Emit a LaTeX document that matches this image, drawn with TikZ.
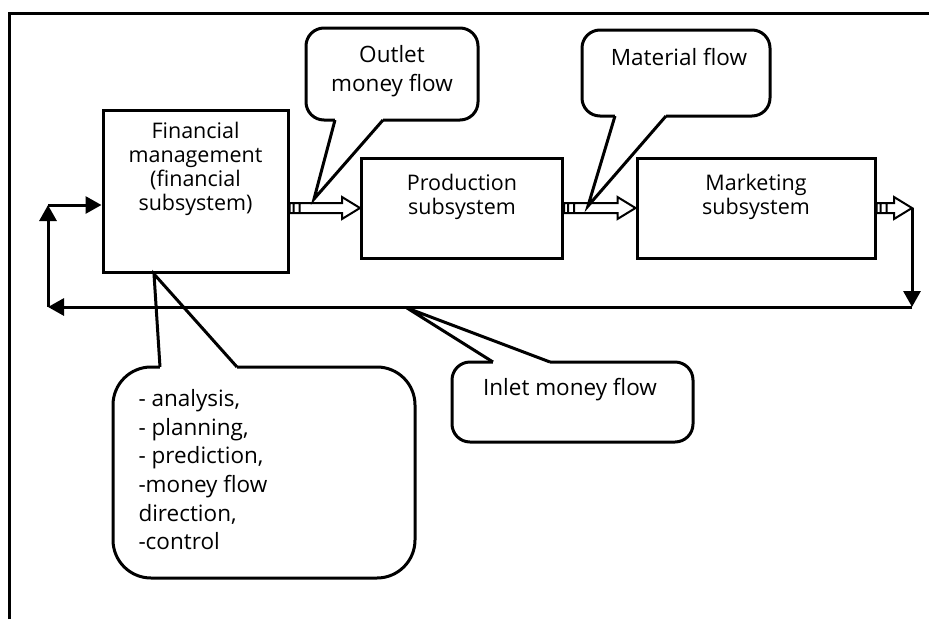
\documentclass[tikz,border=0pt]{standalone}
\usepackage{fontspec}
\setmainfont{Open Sans}
\usetikzlibrary{arrows.meta,calc}

% hollow block arrow from the east side of #1 to the west side of #2
\newcommand\flowarrow[2]{%
  \draw[hollow] let \p1=(#1.east), \p2=(#2.west) in
    (\x1,\y2-5pt) rectangle (\x1+10pt,\y2+5pt)
    (\x1+4pt,\y2-5pt) -- (\x1+4pt,\y2+5pt)
    (\x1+10pt,\y2+5pt) -- (\x2-18pt,\y2+5pt) -- (\x2-18pt,\y2+11pt)
    -- (\x2,\y2) -- (\x2-18pt,\y2-11pt) -- (\x2-18pt,\y2-5pt) -- (\x1+10pt,\y2-5pt);}

\begin{document}
\begin{tikzpicture}[x=1pt,y=-1pt,line width=3pt,
  box/.style={draw,rectangle,inner sep=0pt},
  lbl/.style={font=\fontsize{21.5}{24}\selectfont,align=center},
  note/.style={font=\fontsize{22.5}{28.6}\selectfont,inner sep=0pt},
  tip/.style={-{Triangle[length=16pt,width=17pt]}},
  hollow/.style={line width=2pt,fill=white}]
\useasboundingbox (0,0) rectangle (929,619);

% frame
\draw (9.5,619) -- (9.5,13.5) -- (929,13.5);

% subsystems
\node[box,minimum width=185pt,minimum height=162pt] (fin) at (195.5,191) {};
\node[lbl] (fintxt) at (195.5,169) {Financial\\management\\(financial\\subsystem)};
\node[box,minimum width=201pt,minimum height=100pt] (prod) at (462,208) {};
\node[lbl] (prodtxt) at (462,197) {Production\\subsystem};
\node[box,minimum width=238pt,minimum height=100pt] (mkt) at (756,208) {};
\node[lbl] (mkttxt) at (756,197) {Marketing\\subsystem};

% money and material flows
\coordinate (out) at (912,208);
\coordinate (ret) at (912,307);
\coordinate (back) at (48,307);
\coordinate (up) at (48,205);
\flowarrow{fin}{prod}
\flowarrow{prod}{mkt}
\flowarrow{mkt}{out}
\draw[tip] (out) -- (ret);
\draw[tip] (ret) -- (back);
\draw[tip] (back) -- (up);
\draw[tip] (up) -- (up -| fin.west);

% callouts
\draw[rounded corners=18pt] (306,28) rectangle (478,120);
\fill[white] (335,117.5) rectangle (383,122.5);
\draw (335,120) -- (314,199) -- (383,120);
\node[note,align=center] (outtxt) at (392,71) {Outlet\\money flow};

\draw[rounded corners=18pt] (582,30) rectangle (770,116);
\fill[white] (615,113.5) rectangle (666,118.5);
\draw (615,116) -- (588,206) -- (666,116);
\node[note] (mattxt) at (679,57) {Material flow};

\draw[rounded corners=18pt] (452,362) rectangle (693,442);
\fill[white] (493,359.5) rectangle (550,364.5);
\draw (493,362) -- (407,308) -- (550,362);
\node[note] (intxt) at (570,390) {Inlet money flow};

\draw[rounded corners=38pt] (113,367) rectangle (415,578);
\fill[white] (160,364.5) rectangle (237,369.5);
\draw (160,367) -- (154,274) -- (237,367);
\node[note,align=left,anchor=north west] (tasks) at (137,388)
  {- analysis,\\- planning,\\- prediction,\\-money flow\\direction,\\-control};
\end{tikzpicture}
\end{document}
